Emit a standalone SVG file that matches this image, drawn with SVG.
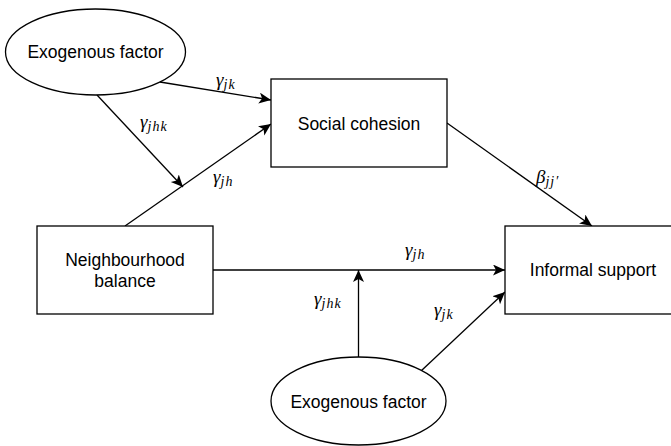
<svg xmlns="http://www.w3.org/2000/svg" width="671" height="446" viewBox="0 0 671 446">
  <style>
    .shape { fill: #ffffff; stroke: #000000; stroke-width: 1.3; }
    .label { font-family: "Liberation Sans", Arial, sans-serif; font-size: 17.5px; fill: #000000; text-anchor: middle; }
    .edge { fill: none; stroke: #000000; stroke-width: 1.3; marker-end: url(#arrow); }
    .math { font-family: "Liberation Serif", "Times New Roman", serif; font-style: italic; font-size: 19px; fill: #000000; }
    .sub { font-size: 14px; letter-spacing: 1px; }
  </style>
  <defs>
    <marker id="arrow" markerUnits="userSpaceOnUse" markerWidth="14" markerHeight="12" refX="12" refY="5.5" orient="auto">
      <path d="M0,0 L12,5.5 L0,11 L3,5.5 z" fill="#000000"/>
    </marker>
  </defs>
  <rect width="671" height="446" fill="#ffffff"/>

  <!-- connectors -->
  <g id="connectors">
    <line class="edge" x1="160" y1="82" x2="271" y2="100"/>
    <line class="edge" x1="97" y1="95" x2="183" y2="187"/>
    <line class="edge" x1="125" y1="226" x2="271" y2="124"/>
    <line class="edge" x1="447" y1="123" x2="592" y2="226"/>
    <line class="edge" x1="213" y1="270" x2="505" y2="270"/>
    <line class="edge" x1="358.5" y1="357" x2="358.5" y2="270"/>
    <line class="edge" x1="421" y1="371" x2="505" y2="292"/>
  </g>

  <!-- coefficient labels -->
  <g id="edge-labels">
    <text class="math" x="216" y="86">γ<tspan class="sub" dy="3">jk</tspan></text>
    <text class="math" x="140" y="128">γ<tspan class="sub" dy="3">jhk</tspan></text>
    <text class="math" x="213" y="183">γ<tspan class="sub" dy="3">jh</tspan></text>
    <text class="math" x="536" y="183">β<tspan class="sub" dy="3">jj′</tspan></text>
    <text class="math" x="405" y="256">γ<tspan class="sub" dy="3">jh</tspan></text>
    <text class="math" x="314" y="305">γ<tspan class="sub" dy="3">jhk</tspan></text>
    <text class="math" x="434" y="316">γ<tspan class="sub" dy="3">jk</tspan></text>
  </g>

  <!-- nodes -->
  <g id="exogenous-top">
    <ellipse class="shape" cx="95.5" cy="52" rx="90" ry="43"/>
    <text class="label" x="95.5" y="58">Exogenous factor</text>
  </g>
  <g id="social-cohesion">
    <rect class="shape" x="271" y="79" width="176" height="88"/>
    <text class="label" x="359" y="129.5">Social cohesion</text>
  </g>
  <g id="neighbourhood-balance">
    <rect class="shape" x="37" y="226" width="176" height="88"/>
    <text class="label" x="125" y="265.5">Neighbourhood</text>
    <text class="label" x="125" y="287">balance</text>
  </g>
  <g id="informal-support">
    <rect class="shape" x="505" y="226" width="176" height="88"/>
    <text class="label" x="593" y="276">Informal support</text>
  </g>
  <g id="exogenous-bottom">
    <ellipse class="shape" cx="358.5" cy="401" rx="87.5" ry="44"/>
    <text class="label" x="358.5" y="407.5">Exogenous factor</text>
  </g>
</svg>
